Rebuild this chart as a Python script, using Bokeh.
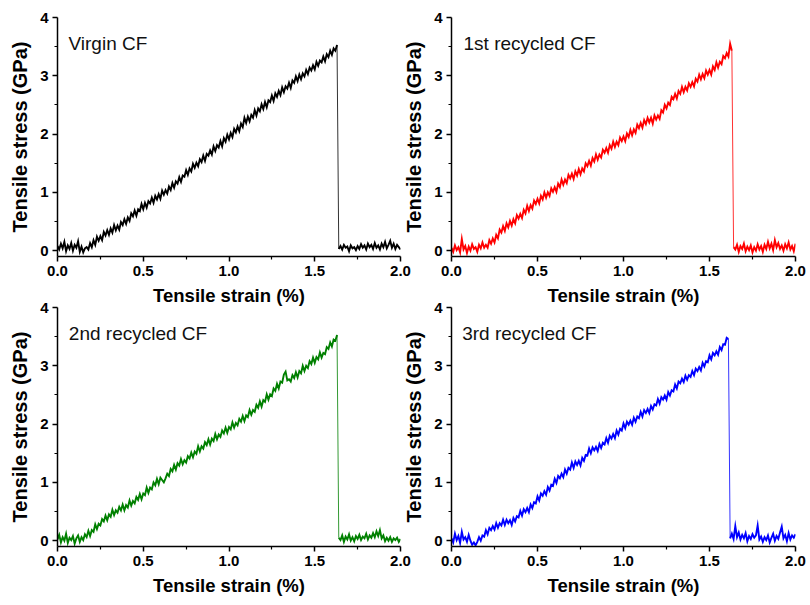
from bokeh.plotting import figure
from bokeh.layouts import row, column
from bokeh.models import Range1d, FixedTicker, PrintfTickFormatter, Label
from bokeh.embed import file_html
from bokeh.resources import INLINE

# Tensile strain grid (%)
strain = [
    0.00, 0.01, 0.02, 0.03, 0.04, 0.05, 0.06, 0.07, 0.08, 0.09,
    0.10, 0.11, 0.12, 0.13, 0.14, 0.15, 0.16, 0.17, 0.18, 0.19,
    0.20, 0.21, 0.22, 0.23, 0.24, 0.25, 0.26, 0.27, 0.28, 0.29,
    0.30, 0.31, 0.32, 0.33, 0.34, 0.35, 0.36, 0.37, 0.38, 0.39,
    0.40, 0.41, 0.42, 0.43, 0.44, 0.45, 0.46, 0.47, 0.48, 0.49,
    0.50, 0.51, 0.52, 0.53, 0.54, 0.55, 0.56, 0.57, 0.58, 0.59,
    0.60, 0.61, 0.62, 0.63, 0.64, 0.65, 0.66, 0.67, 0.68, 0.69,
    0.70, 0.71, 0.72, 0.73, 0.74, 0.75, 0.76, 0.77, 0.78, 0.79,
    0.80, 0.81, 0.82, 0.83, 0.84, 0.85, 0.86, 0.87, 0.88, 0.89,
    0.90, 0.91, 0.92, 0.93, 0.94, 0.95, 0.96, 0.97, 0.98, 0.99,
    1.00, 1.01, 1.02, 1.03, 1.04, 1.05, 1.06, 1.07, 1.08, 1.09,
    1.10, 1.11, 1.12, 1.13, 1.14, 1.15, 1.16, 1.17, 1.18, 1.19,
    1.20, 1.21, 1.22, 1.23, 1.24, 1.25, 1.26, 1.27, 1.28, 1.29,
    1.30, 1.31, 1.32, 1.33, 1.34, 1.35, 1.36, 1.37, 1.38, 1.39,
    1.40, 1.41, 1.42, 1.43, 1.44, 1.45, 1.46, 1.47, 1.48, 1.49,
    1.50, 1.51, 1.52, 1.53, 1.54, 1.55, 1.56, 1.57, 1.58, 1.59,
    1.60, 1.61, 1.62, 1.63, 1.64, 1.65, 1.66, 1.67, 1.68, 1.69,
    1.70, 1.71, 1.72, 1.73, 1.74, 1.75, 1.76, 1.77, 1.78, 1.79,
    1.80, 1.81, 1.82, 1.83, 1.84, 1.85, 1.86, 1.87, 1.88, 1.89,
    1.90, 1.91, 1.92, 1.93, 1.94, 1.95, 1.96, 1.97, 1.98, 1.99,
    2.00,
]

# Tensile stress (GPa)
virgin = [
    0.08, 0.02, 0.12, 0.04, 0.15, -0.01, 0.09, 0.03, 0.13, 0.00,
    0.10, 0.05, 0.16, -0.02, 0.07, -0.03, 0.04, 0.06, 0.02, 0.13,
    0.06, 0.18, 0.10, 0.24, 0.17, 0.25, 0.18, 0.32, 0.26, 0.35,
    0.27, 0.38, 0.31, 0.44, 0.35, 0.43, 0.36, 0.49, 0.44, 0.54,
    0.46, 0.57, 0.51, 0.64, 0.59, 0.69, 0.60, 0.71, 0.68, 0.80,
    0.71, 0.82, 0.74, 0.85, 0.81, 0.91, 0.82, 0.94, 0.88, 0.97,
    0.89, 1.03, 0.96, 1.04, 0.98, 1.10, 1.04, 1.16, 1.08, 1.19,
    1.15, 1.26, 1.18, 1.29, 1.27, 1.38, 1.30, 1.41, 1.36, 1.49,
    1.42, 1.51, 1.45, 1.57, 1.52, 1.63, 1.54, 1.66, 1.63, 1.72,
    1.65, 1.79, 1.71, 1.81, 1.77, 1.88, 1.79, 1.93, 1.87, 1.99,
    1.91, 2.02, 1.95, 2.09, 2.03, 2.13, 2.05, 2.18, 2.12, 2.28,
    2.19, 2.30, 2.22, 2.33, 2.28, 2.41, 2.32, 2.44, 2.39, 2.51,
    2.43, 2.55, 2.46, 2.58, 2.55, 2.66, 2.57, 2.70, 2.64, 2.74,
    2.67, 2.80, 2.72, 2.82, 2.78, 2.88, 2.79, 2.92, 2.88, 2.99,
    2.91, 3.02, 2.94, 3.04, 2.99, 3.10, 3.03, 3.14, 3.09, 3.18,
    3.11, 3.24, 3.17, 3.26, 3.23, 3.33, 3.25, 3.37, 3.32, 3.43,
    3.36, 3.47, 3.43, 3.53, 0.03, 0.08, 0.02, 0.10, 0.05, 0.07,
    -0.01, 0.09, 0.04, 0.06, 0.01, 0.08, 0.03, 0.11, 0.05, 0.09,
    0.02, 0.12, 0.06, 0.10, 0.03, 0.13, 0.05, 0.09, 0.02, 0.12,
    0.06, 0.15, 0.04, 0.10, 0.17, 0.05, 0.12, 0.03, 0.10, 0.06,
    0.02,
]

recycled_1 = [
    0.05, -0.02, 0.09, 0.01, 0.06, -0.03, 0.20, 0.02, 0.08, -0.04,
    0.07, 0.00, 0.11, 0.03, 0.06, -0.02, 0.10, 0.04, 0.14, 0.05,
    0.10, 0.05, 0.18, 0.12, 0.21, 0.14, 0.27, 0.21, 0.36, 0.31,
    0.42, 0.34, 0.47, 0.40, 0.51, 0.43, 0.54, 0.47, 0.61, 0.55,
    0.63, 0.56, 0.70, 0.64, 0.77, 0.68, 0.78, 0.72, 0.86, 0.80,
    0.89, 0.81, 0.94, 0.88, 1.00, 0.91, 1.00, 0.94, 1.07, 1.01,
    1.09, 1.01, 1.15, 1.09, 1.22, 1.13, 1.22, 1.16, 1.30, 1.24,
    1.32, 1.23, 1.36, 1.29, 1.40, 1.31, 1.41, 1.36, 1.50, 1.45,
    1.54, 1.46, 1.59, 1.53, 1.65, 1.56, 1.65, 1.60, 1.73, 1.68,
    1.76, 1.68, 1.81, 1.75, 1.87, 1.78, 1.87, 1.81, 1.94, 1.88,
    1.96, 1.88, 2.01, 1.95, 2.07, 1.98, 2.08, 2.02, 2.16, 2.10,
    2.19, 2.11, 2.24, 2.17, 2.28, 2.20, 2.28, 2.18, 2.32, 2.25,
    2.32, 2.26, 2.41, 2.37, 2.50, 2.44, 2.54, 2.50, 2.64, 2.60,
    2.69, 2.61, 2.74, 2.69, 2.81, 2.72, 2.81, 2.75, 2.87, 2.81,
    2.89, 2.82, 2.95, 2.90, 3.02, 2.94, 3.03, 2.96, 3.09, 3.02,
    3.10, 3.02, 3.16, 3.10, 3.23, 3.14, 3.24, 3.20, 3.34, 3.30,
    3.39, 3.33, 3.55, 3.43, 0.06, 0.02, 0.10, -0.02, 0.08, 0.03,
    0.12, -0.01, 0.07, 0.01, 0.09, -0.03, 0.06, 0.00, 0.11, 0.02,
    0.08, -0.02, 0.10, 0.03, 0.15, 0.04, 0.12, 0.01, 0.18, 0.06,
    0.13, 0.03, 0.09, 0.00, 0.11, 0.04, 0.14, 0.02, 0.08, -0.01,
    0.12,
]

recycled_2 = [
    0.02, 0.10, -0.03, 0.06, 0.00, 0.12, -0.04, 0.05, 0.01, 0.08,
    -0.05, 0.04, 0.09, -0.02, 0.06, 0.01, 0.11, 0.06, 0.17, 0.08,
    0.18, 0.15, 0.28, 0.20, 0.29, 0.26, 0.37, 0.33, 0.43, 0.35,
    0.45, 0.41, 0.53, 0.44, 0.52, 0.48, 0.58, 0.52, 0.62, 0.52,
    0.61, 0.57, 0.69, 0.60, 0.68, 0.64, 0.75, 0.70, 0.80, 0.71,
    0.81, 0.78, 0.91, 0.82, 0.91, 0.88, 1.00, 0.95, 1.06, 0.97,
    1.08, 1.04, 1.00, 1.07, 1.15, 1.11, 1.23, 1.19, 1.30, 1.22,
    1.33, 1.29, 1.40, 1.31, 1.38, 1.34, 1.45, 1.41, 1.51, 1.43,
    1.53, 1.49, 1.62, 1.53, 1.62, 1.58, 1.69, 1.64, 1.74, 1.65,
    1.75, 1.71, 1.83, 1.74, 1.82, 1.78, 1.89, 1.84, 1.94, 1.85,
    1.95, 1.91, 2.03, 1.94, 2.02, 1.98, 2.09, 2.04, 2.14, 2.05,
    2.15, 2.12, 2.24, 2.16, 2.24, 2.21, 2.33, 2.28, 2.39, 2.30,
    2.41, 2.38, 2.51, 2.42, 2.51, 2.48, 2.61, 2.57, 2.69, 2.61,
    2.73, 2.71, 2.85, 2.90, 2.75, 2.77, 2.73, 2.84, 2.79, 2.89,
    2.80, 2.91, 2.87, 3.00, 2.91, 3.00, 2.96, 3.08, 3.03, 3.14,
    3.05, 3.15, 3.11, 3.23, 3.14, 3.22, 3.20, 3.32, 3.29, 3.40,
    3.33, 3.45, 3.43, 3.53, 0.05, 0.01, 0.09, -0.02, 0.07, 0.02,
    0.11, 0.00, 0.06, -0.01, 0.08, 0.03, 0.10, 0.01, 0.07, 0.04,
    0.12, 0.02, 0.09, 0.05, 0.13, 0.06, 0.16, 0.08, 0.18, 0.04,
    0.09, -0.01, 0.05, 0.00, 0.06, -0.02, 0.04, 0.01, 0.05, -0.02,
    0.03,
]

recycled_3 = [
    0.04, -0.03, 0.12, 0.01, 0.08, -0.04, 0.15, 0.02, 0.06, -0.02,
    0.10, 0.00, -0.07, -0.03, -0.08, -0.02, 0.06, 0.00, 0.09, 0.07,
    0.18, 0.11, 0.22, 0.18, 0.25, 0.19, 0.30, 0.22, 0.30, 0.26,
    0.36, 0.27, 0.36, 0.30, 0.35, 0.27, 0.39, 0.33, 0.42, 0.40,
    0.51, 0.43, 0.54, 0.49, 0.56, 0.49, 0.62, 0.56, 0.66, 0.64,
    0.76, 0.69, 0.81, 0.77, 0.85, 0.79, 0.92, 0.86, 0.96, 0.94,
    1.06, 0.99, 1.11, 1.07, 1.15, 1.09, 1.22, 1.15, 1.25, 1.22,
    1.34, 1.25, 1.36, 1.30, 1.37, 1.29, 1.42, 1.37, 1.47, 1.46,
    1.58, 1.50, 1.60, 1.55, 1.61, 1.54, 1.66, 1.59, 1.68, 1.65,
    1.76, 1.68, 1.80, 1.75, 1.83, 1.76, 1.89, 1.82, 1.92, 1.89,
    2.01, 1.93, 2.04, 1.99, 2.06, 1.99, 2.11, 2.04, 2.13, 2.10,
    2.21, 2.13, 2.24, 2.19, 2.26, 2.19, 2.31, 2.25, 2.34, 2.32,
    2.43, 2.35, 2.46, 2.42, 2.49, 2.42, 2.55, 2.49, 2.58, 2.56,
    2.68, 2.61, 2.73, 2.70, 2.78, 2.72, 2.83, 2.76, 2.84, 2.81,
    2.91, 2.84, 2.95, 2.91, 2.98, 2.92, 3.05, 2.99, 3.08, 3.06,
    3.18, 3.11, 3.22, 3.18, 3.25, 3.19, 3.32, 3.27, 3.37, 3.36,
    3.48, 3.46, 0.04, 0.12, 0.03, 0.25, 0.06, 0.14, 0.02, 0.10,
    0.04, 0.13, -0.01, 0.08, 0.03, 0.11, 0.05, 0.09, 0.26, 0.02,
    0.07, -0.02, 0.06, 0.01, 0.09, -0.03, 0.05, 0.12, 0.00, 0.08,
    0.03, 0.14, 0.24, 0.04, 0.10, -0.01, 0.13, 0.02, 0.09, 0.05,
    0.11,
]

panel_labels = ["Virgin CF", "1st recycled CF", "2nd recycled CF", "3rd recycled CF"]
panel_colors = ["#000000", "#ff0000", "#008000", "#0000ff"]
x_ticks = [0.0, 0.5, 1.0, 1.5, 2.0]
x_minor = [0.25, 0.75, 1.25, 1.75]
y_ticks = [0, 1, 2, 3, 4]
y_minor = [0.5, 1.5, 2.5, 3.5]
x_title = "Tensile strain (%)"
y_title = "Tensile stress (GPa)"

FONT = "Liberation Sans"


def make_panel(ys, color, label, width, height, left, right, top, bottom, margin, label_x):
    p = figure(
        width=width, height=height,
        x_range=Range1d(0, 2), y_range=Range1d(-0.1, 4),
        output_backend="svg", toolbar_location=None,
        min_border_left=left, min_border_right=right,
        min_border_top=top, min_border_bottom=bottom,
        border_fill_color=None, outline_line_color=None,
        background_fill_color=None,
        margin=margin,
    )
    # fracture point: the sample after the last loaded value
    k = max(range(len(ys) - 20), key=lambda i: ys[i])
    k = next(i for i in range(k, len(ys) - 1) if ys[i + 1] < 1.0)
    p.line(strain[:k + 1], ys[:k + 1], line_color=color, line_width=1.9, line_join="miter")
    p.line(strain[k:k + 2], ys[k:k + 2], line_color=color, line_width=1, line_alpha=0.8)
    p.line(strain[k + 1:], ys[k + 1:], line_color=color, line_width=1.9, line_join="miter")
    p.xgrid.visible = False
    p.ygrid.visible = False

    p.xaxis.ticker = FixedTicker(ticks=x_ticks, minor_ticks=x_minor)
    p.yaxis.ticker = FixedTicker(ticks=y_ticks, minor_ticks=y_minor)
    p.xaxis.formatter = PrintfTickFormatter(format="%.1f")
    p.yaxis.formatter = PrintfTickFormatter(format="%d")
    p.xaxis.axis_label = x_title
    p.yaxis.axis_label = y_title

    for ax in (p.xaxis[0], p.yaxis[0]):
        ax.axis_line_color = "black"
        ax.axis_line_width = 1.5
        ax.major_tick_line_color = "black"
        ax.major_tick_line_width = 1.5
        ax.major_tick_in = 0
        ax.major_tick_out = 5
        ax.minor_tick_line_color = "black"
        ax.minor_tick_line_width = 1.2
        ax.minor_tick_in = 0
        ax.minor_tick_out = 3
        ax.major_label_text_font = FONT
        ax.major_label_text_font_style = "bold"
        ax.major_label_text_font_size = "15px"
        ax.major_label_text_color = "black"
        ax.major_label_standoff = 4
        ax.axis_label_text_font = FONT
        ax.axis_label_text_font_style = "bold"
        ax.axis_label_text_color = "black"
        ax.axis_label_standoff = 6
    p.xaxis.axis_label_text_font_size = "18.5px"
    p.yaxis.axis_label_text_font_size = "20px"

    p.add_layout(Label(
        x=label_x, y=3.55, text=label, text_baseline="middle", text_align="left",
        text_font=FONT, text_font_size="19px", text_color="#111111",
    ))
    return p


p1 = make_panel(virgin, panel_colors[0], panel_labels[0], 414, 310, 57, 14, 17, 54, (0, 0, 0, 0), 0.064)
p2 = make_panel(recycled_1, panel_colors[1], panel_labels[1], 410, 310, 51, 15, 17, 54, (0, 0, 0, -14), 0.07)
p3 = make_panel(recycled_2, panel_colors[2], panel_labels[2], 414, 305, 57, 14, 7, 59, (-10, 0, 0, 0), 0.066)
p4 = make_panel(recycled_3, panel_colors[3], panel_labels[3], 410, 305, 51, 15, 7, 59, (-10, 0, 0, -14), 0.062)

layout = column(row(p1, p2), row(p3, p4))

open("out.html", "w").write(file_html(layout, INLINE))
